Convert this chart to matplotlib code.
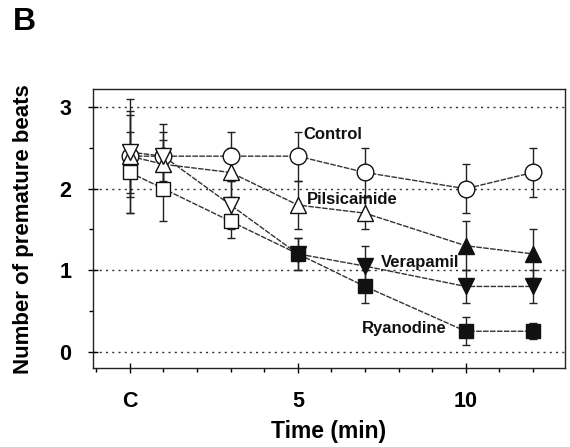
import matplotlib
matplotlib.use("Agg")
import matplotlib.pyplot as plt
from matplotlib.ticker import MultipleLocator

plt.rcParams['font.family'] = ['Liberation Sans', 'DejaVu Sans']

time = [0, 1, 3, 5, 7, 10, 12]
tick_pos = [0, 5, 10]
tick_labels = ["C", "5", "10"]

control = [2.4, 2.4, 2.4, 2.4, 2.2, 2.0, 2.2]
control_err = [0.7, 0.4, 0.3, 0.3, 0.3, 0.3, 0.3]
control_sig = [False, False, False, False, False, False, False]

pilsicainide = [2.4, 2.3, 2.2, 1.8, 1.7, 1.3, 1.2]
pilsicainide_err = [0.5, 0.3, 0.3, 0.3, 0.2, 0.3, 0.3]
pilsicainide_sig = [False, False, False, False, False, True, True]

verapamil = [2.45, 2.4, 1.8, 1.2, 1.05, 0.8, 0.8]
verapamil_err = [0.5, 0.3, 0.3, 0.2, 0.25, 0.2, 0.2]
verapamil_sig = [False, False, False, True, True, True, True]

ryanodine = [2.2, 2.0, 1.6, 1.2, 0.8, 0.25, 0.25]
ryanodine_err = [0.5, 0.4, 0.2, 0.2, 0.2, 0.17, 0.1]
ryanodine_sig = [False, False, False, True, True, True, True]

series = [
    ("Control", control, control_err, control_sig, "o", 12),
    ("Pilsicainide", pilsicainide, pilsicainide_err, pilsicainide_sig, "^", 11),
    ("Verapamil", verapamil, verapamil_err, verapamil_sig, "v", 11),
    ("Ryanodine", ryanodine, ryanodine_err, ryanodine_sig, "s", 10),
]

fig = plt.figure(figsize=(5.7, 4.47), dpi=100)
ax = fig.add_axes([0.163, 0.177, 0.828, 0.623])

for yv in [0, 1, 2, 3]:
    ax.axhline(yv, color="#333333", lw=1.0, ls=(0, (1.5, 3)), zorder=0)

for name, vals, errs, sig, mk, ms in series:
    ax.errorbar(time, vals, yerr=errs, fmt="none", ecolor="#222222",
                elinewidth=1.0, capsize=3, capthick=1.0, zorder=2)
    ax.plot(time, vals, color="#333333", lw=1.0, ls=(0, (4, 1)), zorder=3)
    for t, v, s in zip(time, vals, sig):
        ax.plot([t], [v], marker=mk, ms=ms, mec="#111111", mew=1.0,
                mfc="#111111" if s else "white", ls="none", zorder=4)

labels = [("Control", 5.16, 2.66), ("Pilsicainide", 5.28, 1.87),
          ("Verapamil", 7.46, 1.10), ("Ryanodine", 6.92, 0.28)]
for txt, x, y in labels:
    ax.text(x, y, txt, fontsize=12, fontweight="bold", va="center", ha="left",
            color="#111111", zorder=5)

ax.set_xlim(-1.1, 12.95)
ax.set_ylim(-0.2, 3.22)
ax.set_xticks(tick_pos)
ax.set_xticklabels(tick_labels)
ax.xaxis.set_minor_locator(MultipleLocator(1))
ax.set_yticks([0, 1, 2, 3])
ax.yaxis.set_minor_locator(MultipleLocator(0.5))
ax.tick_params(axis="both", which="major", direction="inout", length=7, width=1,
               labelsize=15.5)
ax.tick_params(axis="x", which="major", pad=13)
ax.tick_params(axis="y", which="major", pad=12)
ax.tick_params(axis="both", which="minor", direction="out", length=3, width=1)
for lab in ax.get_xticklabels() + ax.get_yticklabels():
    lab.set_fontweight("bold")
for sp in ax.spines.values():
    sp.set_linewidth(1.0)
    sp.set_color("#222222")

ax.set_xlabel("Time (min)", fontsize=16.5, fontweight="bold", labelpad=6)
ax.set_ylabel("Number of premature beats", fontsize=16, fontweight="bold", labelpad=18)
fig.text(0.022, 0.985, "B", fontsize=23, fontweight="bold", va="top", ha="left")

fig.savefig("out.png", dpi=100)
